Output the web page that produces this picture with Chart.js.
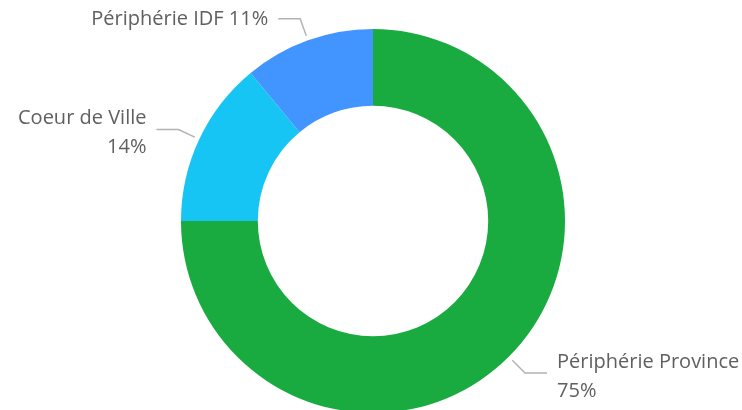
<!DOCTYPE html>
<html>
<head>
<meta charset="utf-8">
<script src="https://cdn.jsdelivr.net/npm/chart.js@4.4.1/dist/chart.umd.min.js"></script>
<style>
  html, body { margin: 0; padding: 0; background: #fff; overflow: hidden; }
  #wrap { position: relative; width: 742px; height: 442px; }
</style>
</head>
<body>
<div id="wrap"><canvas id="donut"></canvas></div>
<script>
// Data
const categories = ['Périphérie Province', 'Coeur de Ville', 'Périphérie IDF'];
const shares = [75, 14, 11];
const sliceColors = ['#1aab40', '#17c5f5', '#4294ff'];

const FONT = '"Open Sans", "Noto Sans", sans-serif';
const TEXT = '#606060';
const LEADER = '#b3b3b3';

// Plugin: outside labels with elbow leader lines (Power BI style)
Chart.register({
  id: 'outsideLabels',
  afterDatasetsDraw: function (chart) {
    var ctx = chart.ctx;
    var meta = chart.getDatasetMeta(0);
    var total = shares.reduce((s, v) => s + v, 0);
    ctx.save();
    ctx.font = '20px ' + FONT;
    ctx.fillStyle = TEXT;
    ctx.textBaseline = 'middle';
    meta.data.forEach(function (arc, i) {
      var p = arc.getProps(['x', 'y', 'startAngle', 'endAngle', 'outerRadius'], true);
      var mid = (p.startAngle + p.endAngle) / 2;
      var cos = Math.cos(mid), sin = Math.sin(mid);
      var right = cos >= 0;
      var x0 = p.x + cos * (p.outerRadius + 5), y0 = p.y + sin * (p.outerRadius + 5);
      var x1 = p.x + cos * (p.outerRadius + 23), y1 = p.y + sin * (p.outerRadius + 23);
      var x2 = x1 + (right ? 22 : -22);
      ctx.strokeStyle = LEADER;
      ctx.lineWidth = 1.5;
      ctx.beginPath();
      ctx.moveTo(x0, y0);
      ctx.lineTo(x1, y1);
      ctx.lineTo(x2, y1);
      ctx.stroke();

      var pct = Math.round((shares[i] / total) * 100) + '%';
      var tx = x2 + (right ? 10 : -10);
      var room = right ? chart.width - tx : tx;
      var one = categories[i] + ' ' + pct;
      var lines = ctx.measureText(one).width <= room ? [one] : [categories[i], pct];
      ctx.textAlign = right ? 'left' : 'right';
      if (lines.length === 1) {
        ctx.fillText(lines[0], tx, y1 + 1);
      } else {
        ctx.fillText(lines[0], tx, y1 - 11);
        ctx.fillText(lines[1], tx, y1 + 18);
      }
    });
    ctx.restore();
  },
});

new Chart(document.getElementById('donut'), {
  type: 'doughnut',
  data: {
    labels: categories,
    datasets: [{
      data: shares,
      backgroundColor: sliceColors,
      borderWidth: 0,
      hoverOffset: 0,
    }],
  },
  options: {
    responsive: true,
    maintainAspectRatio: false,
    animation: false,
    cutout: '60%',
    layout: { padding: { top: 29, bottom: 29, left: 4, right: 0 } },
    plugins: {
      legend: { display: false },
      tooltip: { enabled: false },
    },
  },
});
</script>
</body>
</html>
